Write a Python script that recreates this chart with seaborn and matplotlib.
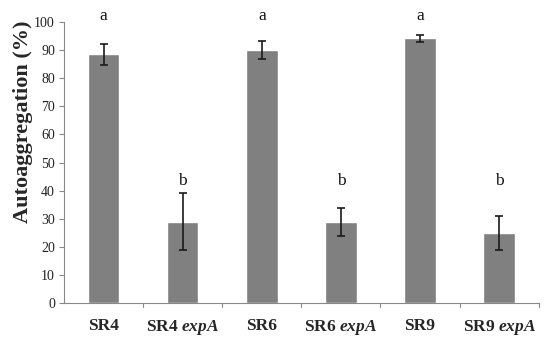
import matplotlib
matplotlib.use("Agg")
import matplotlib.pyplot as plt
import seaborn as sns
import pandas as pd

categories = ["SR4", "SR4 $expA$", "SR6", "SR6 $expA$", "SR9", "SR9 $expA$"]
values = [88.5, 29.0, 90.0, 29.0, 94.2, 25.0]
errors = [3.7, 10.2, 3.2, 5.0, 1.2, 6.0]
letters = ["a", "b", "a", "b", "a", "b"]
yticks = [0, 10, 20, 30, 40, 50, 60, 70, 80, 90, 100]

sns.set_style("white")
plt.rcParams["font.family"] = ["Liberation Serif", "DejaVu Serif"]
plt.rcParams["mathtext.fontset"] = "custom"
plt.rcParams["mathtext.it"] = "Liberation Serif:italic:bold"
plt.rcParams["mathtext.rm"] = "Liberation Serif:bold"

df = pd.DataFrame({"cat": categories, "val": values})

fig = plt.figure(figsize=(5.56, 3.39), dpi=100)
ax = fig.add_axes([0.115, 0.106, 0.854, 0.829])
sns.barplot(data=df, x="cat", y="val", color="#808080", saturation=1,
            width=0.4, ax=ax, errorbar=None)
ax.errorbar(range(len(categories)), values, yerr=errors, fmt="none",
            ecolor="#1a1a1a", elinewidth=1.2, capsize=3, capthick=1.2)

for i, (v, e, l) in enumerate(zip(values, errors, letters)):
    y = 102.3 if l == "a" else 43.5
    ax.text(i, y, l, ha="center", va="center", fontsize=12.5, color="#111111")

ax.set_ylim(0, 100)
ax.set_xlim(-0.5, len(categories) - 0.5)
ax.set_yticks(yticks)
ax.tick_params(axis="y", labelsize=10, length=3.5, direction="out", left=True,
               color="#888888", pad=3, labelcolor="#222222")
ax.set_xticks(range(len(categories)))
ax.set_xticklabels(categories, fontsize=12.5, fontweight="bold")
ax.tick_params(axis="x", length=0, pad=11)
for b in [0.5, 1.5, 2.5, 3.5, 4.5, 5.5]:
    ax.plot([b, b], [0, -1.5], color="#888888", lw=0.8, clip_on=False)
ax.set_xlabel("")
ax.set_ylabel("Autoaggregation (%)", fontsize=16, fontweight="bold")
ax.yaxis.set_label_coords(-0.066, 0.644)

for s in ["top", "right"]:
    ax.spines[s].set_visible(False)
for s in ["left", "bottom"]:
    ax.spines[s].set_color("#888888")
    ax.spines[s].set_linewidth(0.8)

fig.savefig("out.png", dpi=100)
